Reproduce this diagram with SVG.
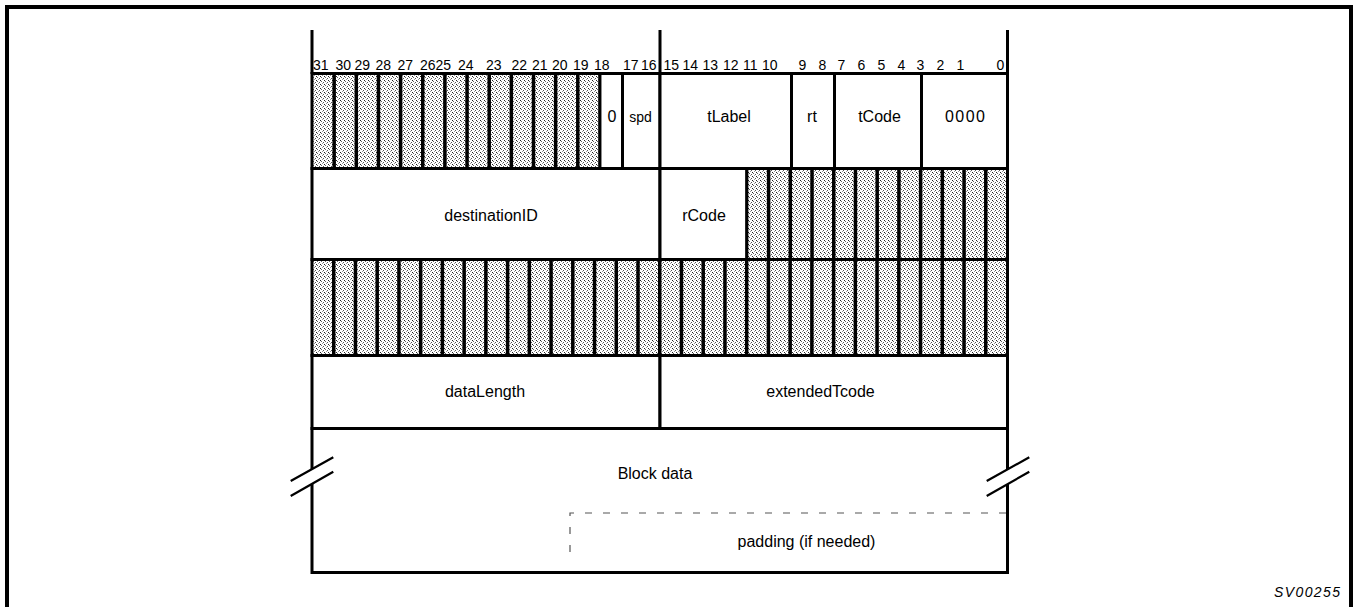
<svg xmlns="http://www.w3.org/2000/svg" width="1353" height="607" viewBox="0 0 1353 607">
<style>
.ln{stroke:#000;stroke-width:3;fill:none}
.fld{fill:#fff;stroke:#000;stroke-width:3}
.rsv{fill:url(#dots);stroke:#000;stroke-width:3}
.sep{stroke:#000;stroke-width:3.5;fill:none}
.lbl{font-family:"Liberation Sans",Arial,Helvetica,sans-serif;font-size:16px;fill:#000;text-anchor:middle}
.bit{font-family:"Liberation Sans",Arial,Helvetica,sans-serif;font-size:14px;fill:#000}
.slash{stroke:#000;stroke-width:2.2;fill:none}
.dash{stroke:#555;stroke-width:1.2;fill:none;stroke-dasharray:7 11}
</style>
<defs>
<pattern id="dots" width="4" height="4" patternUnits="userSpaceOnUse">
<rect width="4" height="4" fill="#fff"/>
<rect x="0" y="0" width="1" height="1" fill="#222"/>
<rect x="1" y="1" width="1" height="1" fill="#666"/>
<rect x="2" y="3" width="1" height="1" fill="#999"/>
<rect x="3" y="2" width="1" height="1" fill="#555"/>
</pattern>
</defs>
<rect width="1353" height="607" fill="#fff"/>
<g id="frame"><rect x="7" y="7" width="1344" height="640" fill="none" stroke="#000" stroke-width="4"/></g>

<g id="bit-header">
<path class="ln" d="M312,30V74 M660,30V74 M1007.5,30V74"/>
<text class="bit" y="69.5"><tspan x="313">31</tspan><tspan x="335.5">30</tspan><tspan x="354.5">29</tspan><tspan x="375.5">28</tspan><tspan x="397.5">27</tspan><tspan x="420">26</tspan><tspan x="435.5">25</tspan><tspan x="458">24</tspan><tspan x="486">23</tspan><tspan x="511.5">22</tspan><tspan x="532">21</tspan><tspan x="552">20</tspan><tspan x="573">19</tspan><tspan x="594">18</tspan><tspan x="623">17</tspan><tspan x="641">16</tspan><tspan x="663.5">15</tspan><tspan x="682.5">14</tspan><tspan x="702.5">13</tspan><tspan x="723">12</tspan><tspan x="743">11</tspan><tspan x="762">10</tspan><tspan x="798.5">9</tspan><tspan x="818.5">8</tspan><tspan x="837.5">7</tspan><tspan x="857.5">6</tspan><tspan x="877.5">5</tspan><tspan x="897.5">4</tspan><tspan x="916.5">3</tspan><tspan x="936.5">2</tspan><tspan x="956.5">1</tspan><tspan x="996.5">0</tspan></text>
</g>

<g id="reserved-31-19">
<rect class="rsv" x="312" y="73.5" width="287.95" height="95"/>
<path class="sep" d="M334.15,73.5V168.5 M356.3,73.5V168.5 M378.45,73.5V168.5 M400.6,73.5V168.5 M422.75,73.5V168.5 M444.9,73.5V168.5 M467.05,73.5V168.5 M489.2,73.5V168.5 M511.35,73.5V168.5 M533.5,73.5V168.5 M555.65,73.5V168.5 M577.8,73.5V168.5"/>
</g>
<g id="field-zero"><rect class="fld" x="599.95" y="73.5" width="22.55" height="95"/><text class="lbl" x="612" y="122">0</text></g>
<g id="field-spd"><rect class="fld" x="622.5" y="73.5" width="37.5" height="95"/><text class="lbl" x="640.5" y="122" style="font-size:14px">spd</text></g>
<g id="field-tLabel"><rect class="fld" x="660" y="73.5" width="131.5" height="95"/><text class="lbl" x="729" y="122">tLabel</text></g>
<g id="field-rt"><rect class="fld" x="791.5" y="73.5" width="43" height="95"/><text class="lbl" x="812" y="122">rt</text></g>
<g id="field-tCode"><rect class="fld" x="834.5" y="73.5" width="87" height="95"/><text class="lbl" x="879.5" y="122">tCode</text></g>
<g id="field-0000"><rect class="fld" x="921.5" y="73.5" width="86" height="95"/><text class="lbl" x="965" y="122" textLength="40">0000</text></g>

<g id="field-destinationID"><rect class="fld" x="312" y="168.5" width="348" height="91"/><text class="lbl" x="491" y="221">destinationID</text></g>
<g id="field-rCode"><rect class="fld" x="660" y="168.5" width="86.88" height="91"/><text class="lbl" x="704" y="221">rCode</text></g>
<g id="reserved-row2">
<rect class="rsv" x="746.88" y="168.5" width="260.62" height="91"/>
<path class="sep" d="M768.6,168.5V259.5 M790.32,168.5V259.5 M812.03,168.5V259.5 M833.75,168.5V259.5 M855.47,168.5V259.5 M877.19,168.5V259.5 M898.91,168.5V259.5 M920.63,168.5V259.5 M942.34,168.5V259.5 M964.06,168.5V259.5 M985.78,168.5V259.5"/>
</g>

<g id="reserved-row3">
<rect class="rsv" x="312" y="259.5" width="695.5" height="96"/>
<path class="sep" d="M333.73,259.5V355.5 M355.47,259.5V355.5 M377.2,259.5V355.5 M398.94,259.5V355.5 M420.67,259.5V355.5 M442.4,259.5V355.5 M464.14,259.5V355.5 M485.87,259.5V355.5 M507.61,259.5V355.5 M529.34,259.5V355.5 M551.07,259.5V355.5 M572.81,259.5V355.5 M594.54,259.5V355.5 M616.28,259.5V355.5 M638.01,259.5V355.5 M659.74,259.5V355.5 M681.48,259.5V355.5 M703.21,259.5V355.5 M724.95,259.5V355.5 M746.68,259.5V355.5 M768.41,259.5V355.5 M790.15,259.5V355.5 M811.88,259.5V355.5 M833.62,259.5V355.5 M855.35,259.5V355.5 M877.08,259.5V355.5 M898.82,259.5V355.5 M920.55,259.5V355.5 M942.29,259.5V355.5 M964.02,259.5V355.5 M985.75,259.5V355.5"/>
</g>

<g id="field-dataLength"><rect class="fld" x="312" y="355.5" width="348" height="73"/><text class="lbl" x="485" y="397">dataLength</text></g>
<g id="field-extendedTcode"><rect class="fld" x="660" y="355.5" width="347.5" height="73"/><text class="lbl" x="820.5" y="397">extendedTcode</text></g>

<g id="field-blockData">
<rect class="fld" x="312" y="428.5" width="695.5" height="144"/>
<text class="lbl" x="655" y="479">Block data</text>
<polygon points="304,473.7 320,464.8 320,479.9 304,488.8" fill="#fff"/>
<polygon points="999.5,473.7 1015.5,464.8 1015.5,479.9 999.5,488.8" fill="#fff"/>
<path class="slash" d="M290.7,481L333.3,457.3 M290.7,496L333.3,471.7 M986.7,481L1029.3,457.3 M986.7,496L1029.3,471.7"/>
</g>

<g id="field-padding">
<path class="dash" d="M1006,513H570V557"/>
<text class="lbl" x="806.5" y="547">padding (if needed)</text>
</g>

<g id="connectors"></g>

<text x="1340" y="597" style="font-family:'Liberation Sans',Arial,sans-serif;font-size:14px;font-style:italic;text-anchor:end" textLength="66">SV00255</text>
</svg>
